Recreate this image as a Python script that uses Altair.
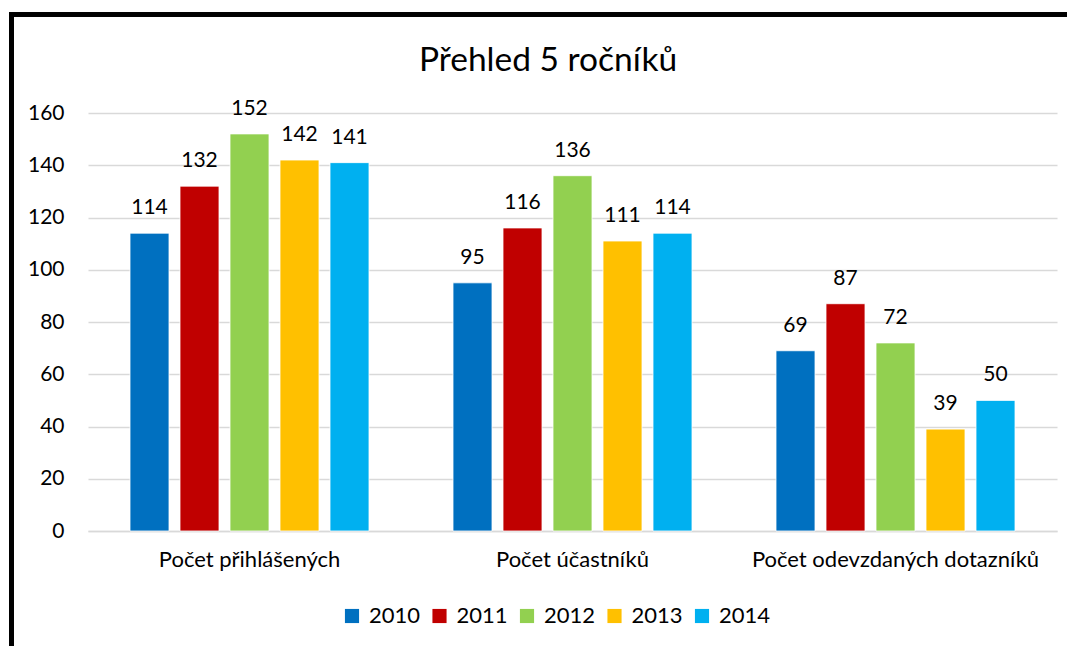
import altair as alt
import pandas as pd

categories = ["Počet přihlášených", "Počet účastníků", "Počet odevzdaných dotazníků"]
years = ["2010", "2011", "2012", "2013", "2014"]
values_2010 = [114, 95, 69]
values_2011 = [132, 116, 87]
values_2012 = [152, 136, 72]
values_2013 = [142, 111, 39]
values_2014 = [141, 114, 50]
colors = ["#0070C0", "#C00000", "#92D050", "#FFC000", "#00B0F0"]
title_text = "Přehled 5 ročníků"

series = [values_2010, values_2011, values_2012, values_2013, values_2014]
rows = []
for y, vals in zip(years, series):
    for c, v in zip(categories, vals):
        rows.append({"kategorie": c, "rok": y, "hodnota": v})
df = pd.DataFrame(rows)

FONT = "Lato"
FS = 21

x = alt.X("kategorie:N", sort=categories, title=None,
          scale=alt.Scale(paddingInner=0, paddingOuter=0),
          axis=alt.Axis(labelAngle=0, labelFontSize=22, labelColor="#000000",
                        labelPadding=18, ticks=False, domainColor="#D9D9D9",
                        domainWidth=1.5, labelFont=FONT, labelLimit=500))
xo = alt.XOffset("rok:N", sort=years,
                 scale=alt.Scale(paddingInner=0.22, paddingOuter=0.84))
y = alt.Y("hodnota:Q", title=None,
          scale=alt.Scale(domain=[0, 160]),
          axis=alt.Axis(values=[0, 20, 40, 60, 80, 100, 120, 140, 160],
                        labelFontSize=FS, labelColor="#000000", labelPadding=24,
                        ticks=False, domain=False, gridColor="#D9D9D9",
                        gridWidth=1.5, labelFont=FONT))

bars = alt.Chart(df).mark_bar(stroke="white", strokeWidth=0.8).encode(
    x=x, xOffset=xo, y=y,
    color=alt.Color("rok:N", sort=years,
                    scale=alt.Scale(domain=years, range=colors),
                    legend=alt.Legend(title=None, orient="none", direction="horizontal",
                                      legendX=253, legendY=492, symbolType="square",
                                      symbolSize=200, symbolStrokeWidth=0,
                                      labelFontSize=22, labelFont=FONT,
                                      labelColor="#000000", columnPadding=7.5,
                                      labelOffset=6)),
)

labels = alt.Chart(df).mark_text(baseline="alphabetic", dy=-19, fontSize=FS,
                                 font=FONT, color="#000000").encode(
    x=alt.X("kategorie:N", sort=categories),
    xOffset=alt.XOffset("rok:N", sort=years),
    y=alt.Y("hodnota:Q"),
    text=alt.Text("hodnota:Q"),
)

title_df = pd.DataFrame({"t": [title_text]})
title = alt.Chart(title_df).mark_text(fontSize=33.5, font=FONT, color="#000000",
                                      baseline="alphabetic", align="center",
                                      clip=False).encode(
    x=alt.value(460), y=alt.value(-42), text="t:N")

frame_left = alt.Chart(df).mark_rule(color="black", strokeWidth=5, clip=False).encode(
    x=alt.value(-76.5), y=alt.value(-100), y2=alt.value(560))
frame_top = alt.Chart(df).mark_rule(color="black", strokeWidth=3.5, clip=False).encode(
    x=alt.value(-79), x2=alt.value(1000), y=alt.value(-98.5))

chart = alt.layer(bars, labels, title, frame_left, frame_top).properties(
    width=969, height=418,
    autosize=alt.AutoSizeParams(type="none"),
    padding={"left": 80, "top": 105, "right": 10, "bottom": 115},
).configure_view(stroke=None)

chart.save("out.html", embed_options={"renderer": "svg", "actions": False})
